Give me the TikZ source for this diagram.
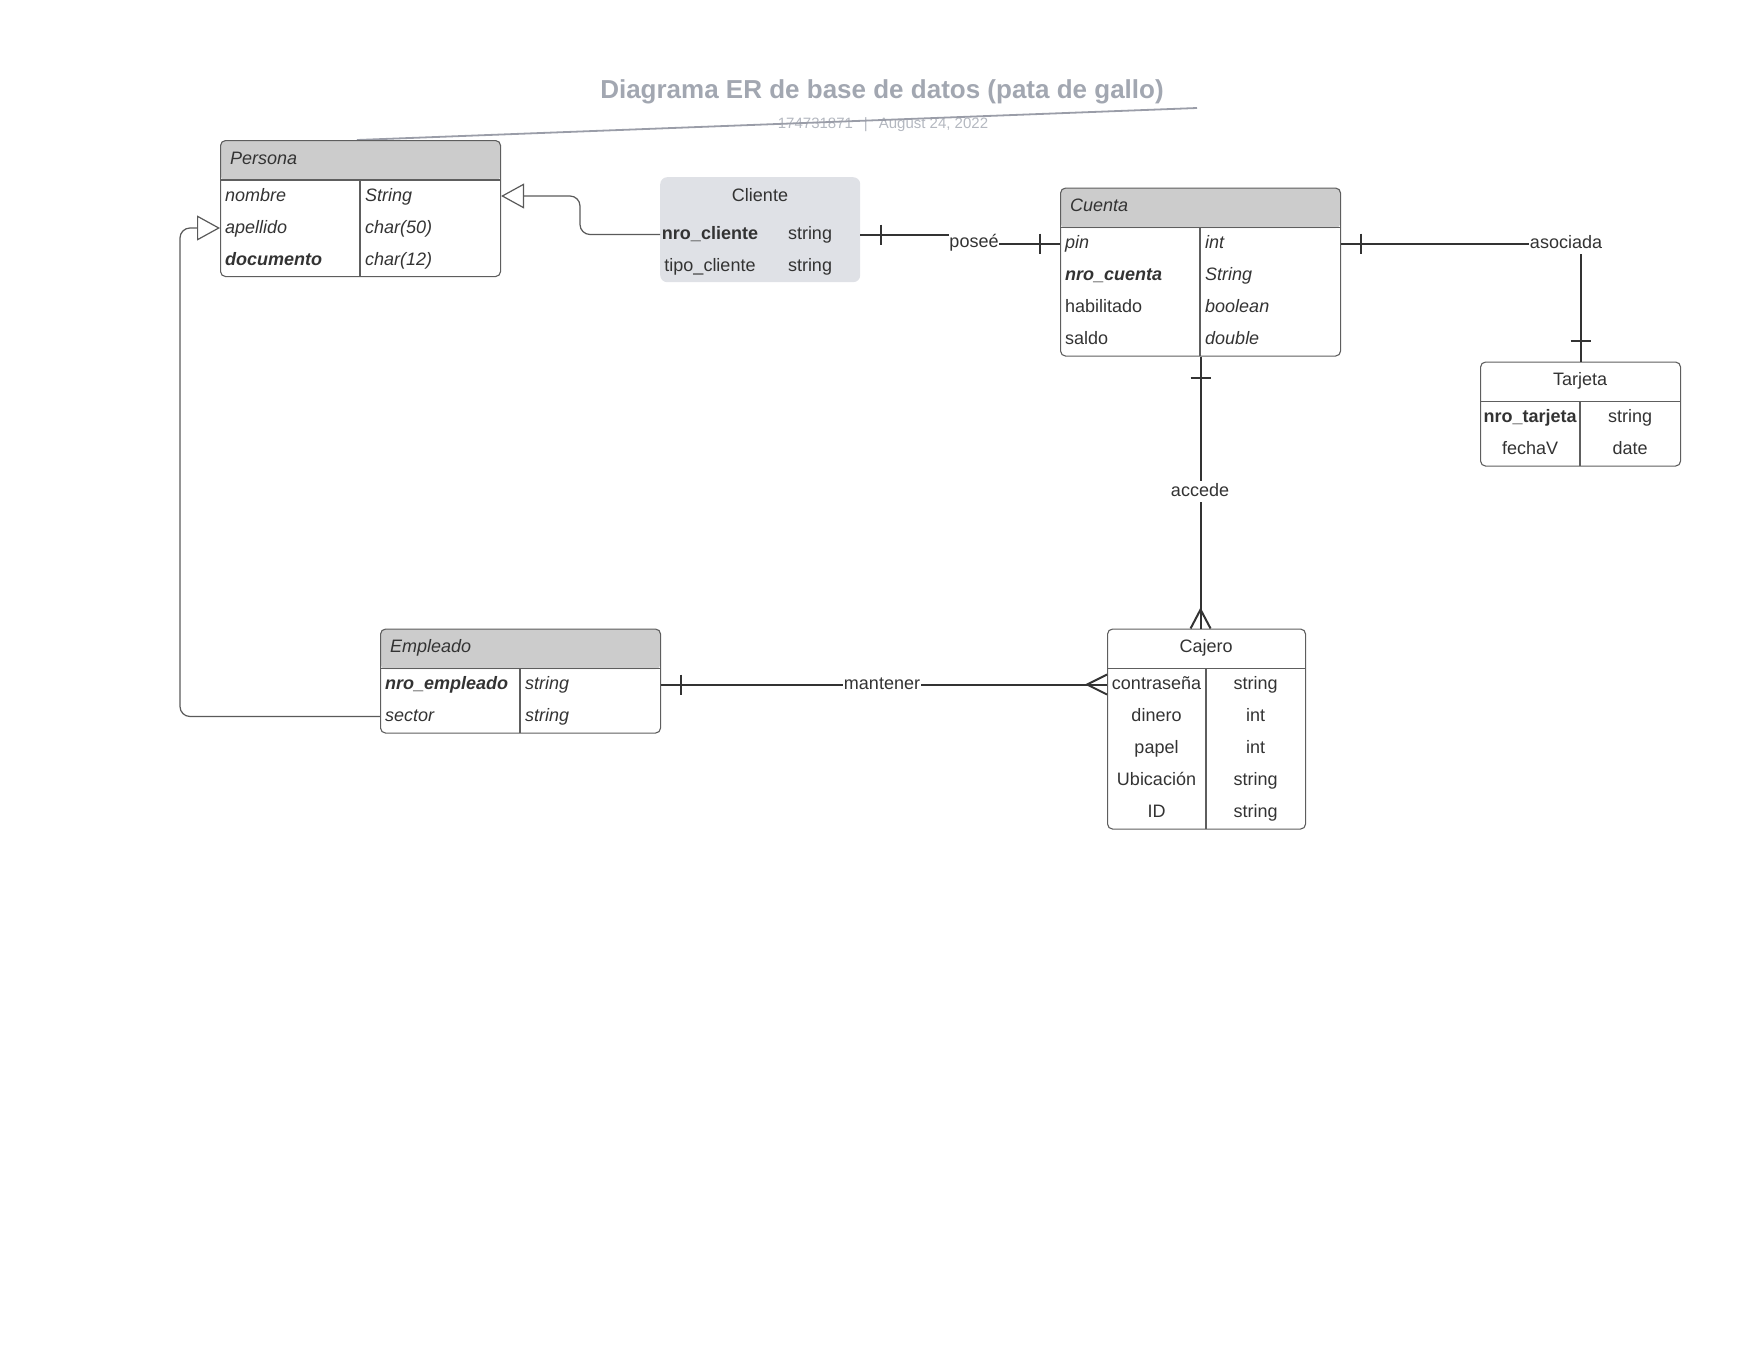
\documentclass[tikz,border=0pt]{standalone}
\usepackage{fontspec}
\setmainfont{Liberation Sans}
\usetikzlibrary{arrows.meta,calc}

\definecolor{ink}{HTML}{333333}
\definecolor{edge}{HTML}{5E5E5E}
\definecolor{headgray}{HTML}{CCCCCC}
\definecolor{clientfill}{HTML}{DFE1E6}
\definecolor{titlegray}{HTML}{A2A7B1}
\definecolor{subgray}{HTML}{B4B8C0}
\definecolor{inhgray}{HTML}{5A5A5A}
\definecolor{rulegray}{HTML}{9A9DA8}

\tikzset{
  txt/.style={font=\fontsize{18}{21}\selectfont, text=ink, inner sep=0pt,
    text height=13pt, text depth=3pt},
  entity/.style={draw=edge, line width=1.1pt, rounded corners=5pt,
    anchor=north west, inner sep=0pt},
  withhead/.style={path picture={\fill[headgray]
    (path picture bounding box.north west) rectangle
    ([yshift=-40pt]path picture bounding box.north east);}},
  clientbox/.style={fill=clientfill, rounded corners=7pt, anchor=north west,
    inner sep=0pt},
  grid/.style={draw=edge, line width=1.1pt},
  rel/.style={draw=ink, line width=2pt},
  rellabel/.style={txt, fill=white, inner xsep=0.5pt, inner ysep=2.5pt},
  isa/.style={draw=inhgray, line width=1.2pt, rounded corners=10pt,
    -{Triangle[open, length=23pt, width=25pt, line width=1.2pt, fill=white]}},
}

\begin{document}
\begin{tikzpicture}[x=1pt,y=-1pt]
\useasboundingbox (0,0) rectangle (1760,1360);

% heading
\node[font=\fontsize{26}{30}\selectfont\bfseries, text=titlegray, inner sep=0pt]
  (title) at (882,91.5) {Diagrama ER de base de datos (pata de gallo)};
\node[font=\fontsize{15}{18}\selectfont, text=subgray, inner sep=0pt]
  (subtitle) at (883,125) {174731871\hspace{11pt}|\hspace{11pt}August 24, 2022};
\coordinate (ruleA) at (357,140);
\coordinate (ruleB) at (1197,108);
\draw[rulegray, line width=1.8pt] (ruleA) -- (ruleB);

% ---------- Persona ----------
\node[entity, withhead, minimum width=280pt, minimum height=136pt] (persona) at (220,140) {};
\draw[grid] (220,180) -- (500,180) (360,180) -- (360,276);
\node[txt, anchor=west] (personaT) at (230,159) {\itshape Persona};
\node[txt, anchor=west] (p1) at (225,196) {\itshape nombre};
\node[txt, anchor=west] (p2) at (225,228) {\itshape apellido};
\node[txt, anchor=west] (p3) at (225,260) {\bfseries\itshape documento};
\node[txt, anchor=west] (p1t) at (365,196) {\itshape String};
\node[txt, anchor=west] (p2t) at (365,228) {\itshape char(50)};
\node[txt, anchor=west] (p3t) at (365,260) {\itshape char(12)};

% ---------- Cliente ----------
\node[clientbox, minimum width=200pt, minimum height=105pt] (cliente) at (660,177) {};
\node[txt] (clienteT) at (760,196) {Cliente};
\node[txt] (cl1) at (710,234.5) {\bfseries nro\_cliente};
\node[txt] (cl2) at (710,266) {tipo\_cliente};
\node[txt] (cl1t) at (810,234.5) {string};
\node[txt] (cl2t) at (810,266) {string};

% ---------- Cuenta ----------
\node[entity, withhead, minimum width=280pt, minimum height=168pt] (cuenta) at (1060,187.5) {};
\draw[grid] (1060,227.5) -- (1340,227.5) (1200,227.5) -- (1200,355.5);
\node[txt, anchor=west] (cuentaT) at (1070,206) {\itshape Cuenta};
\node[txt, anchor=west] (cu1) at (1065,243.5) {\itshape pin};
\node[txt, anchor=west] (cu2) at (1065,275.5) {\bfseries\itshape nro\_cuenta};
\node[txt, anchor=west] (cu3) at (1065,307.5) {habilitado};
\node[txt, anchor=west] (cu4) at (1065,339.5) {saldo};
\node[txt, anchor=west] (cu1t) at (1205,243.5) {\itshape int};
\node[txt, anchor=west] (cu2t) at (1205,275.5) {\itshape String};
\node[txt, anchor=west] (cu3t) at (1205,307.5) {\itshape boolean};
\node[txt, anchor=west] (cu4t) at (1205,339.5) {\itshape double};

% ---------- Tarjeta ----------
\node[entity, minimum width=200pt, minimum height=104pt] (tarjeta) at (1480,361.5) {};
\draw[grid] (1480,401.5) -- (1680,401.5) (1580,401.5) -- (1580,465.5);
\node[txt] (tarjetaT) at (1580,380) {Tarjeta};
\node[txt] (ta1) at (1530,417.5) {\bfseries nro\_tarjeta};
\node[txt] (ta2) at (1530,449.5) {fechaV};
\node[txt] (ta1t) at (1630,417.5) {string};
\node[txt] (ta2t) at (1630,449.5) {date};

% ---------- Empleado ----------
\node[entity, withhead, minimum width=280pt, minimum height=104pt] (empleado) at (380,628.5) {};
\draw[grid] (380,668.5) -- (660,668.5) (520,668.5) -- (520,732.5);
\node[txt, anchor=west] (empleadoT) at (390,647) {\itshape Empleado};
\node[txt, anchor=west] (em1) at (385,684.5) {\bfseries\itshape nro\_empleado};
\node[txt, anchor=west] (em2) at (385,716.5) {\itshape sector};
\node[txt, anchor=west] (em1t) at (525,684.5) {\itshape string};
\node[txt, anchor=west] (em2t) at (525,716.5) {\itshape string};

% ---------- Cajero ----------
\node[entity, minimum width=198pt, minimum height=200pt] (cajero) at (1107,628.5) {};
\draw[grid] (1107,668.5) -- (1305,668.5) (1206,668.5) -- (1206,828.5);
\node[txt] (cajeroT) at (1206,647) {Cajero};
\node[txt] (ca1) at (1156.5,684.5) {contraseña};
\node[txt] (ca2) at (1156.5,716.5) {dinero};
\node[txt] (ca3) at (1156.5,748.5) {papel};
\node[txt] (ca4) at (1156.5,780.5) {Ubicación};
\node[txt] (ca5) at (1156.5,812.5) {ID};
\node[txt] (ca1t) at (1255.5,684.5) {string};
\node[txt] (ca2t) at (1255.5,716.5) {int};
\node[txt] (ca3t) at (1255.5,748.5) {int};
\node[txt] (ca4t) at (1255.5,780.5) {string};
\node[txt] (ca5t) at (1255.5,812.5) {string};

% ---------- generalisation ----------
\draw[isa] (cl1 -| cliente.west) -- ++(-80,0) |- (p1 -| persona.east);
\draw[isa] (em2 -| empleado.west) -- ++(-200,0) |- (p2 -| persona.west);

% ---------- relationships ----------
% Cliente -- Cuenta
\coordinate (poseeAt) at (974,242);
\draw[rel] (cl1 -| cliente.east) -| (poseeAt) |- (cu1 -| cuenta.west);
\draw[rel] ($(cl1 -| cliente.east)+(21,-10)$) -- ++(0,20);
\draw[rel] ($(cu1 -| cuenta.west)+(-20,-10)$) -- ++(0,20);
\node[rellabel] (posee) at (poseeAt) {poseé};

% Cuenta -- Tarjeta
\coordinate (asocAt) at (1566,243.5);
\draw[rel] (cu1 -| cuenta.east) -| (tarjeta.north);
\draw[rel] ($(cu1 -| cuenta.east)+(20,-10)$) -- ++(0,20);
\draw[rel] ($(tarjeta.north)+(-10,-21)$) -- ++(20,0);
\node[rellabel] (asociada) at (asocAt) {asociada};

% Cuenta -- Cajero
\coordinate (cajTop) at (cuenta.south |- cajero.north);
\draw[rel] (cuenta.south) -- (cajTop);
\draw[rel] ($(cuenta.south)+(-10,21)$) -- ++(20,0);
\draw[rel] ($(cajTop)+(-10,0)$) -- ($(cajTop)+(0,-19)$) -- ($(cajTop)+(10,0)$);
\node[rellabel] (accede) at (1200,491) {accede};

% Empleado -- Cajero
\coordinate (cajLeft) at (em1 -| cajero.west);
\draw[rel] (em1 -| empleado.east) -- (cajLeft);
\draw[rel] ($(em1 -| empleado.east)+(20,-10)$) -- ++(0,20);
\draw[rel] ($(cajLeft)+(0,-10)$) -- ($(cajLeft)+(-20,0)$) -- ($(cajLeft)+(0,10)$);
\node[rellabel] (mantener) at (882,684) {mantener};

\end{tikzpicture}
\end{document}
